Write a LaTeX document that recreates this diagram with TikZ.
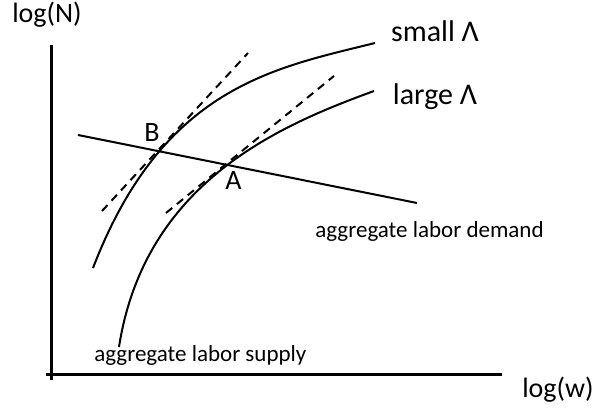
\documentclass[tikz,border=0pt]{standalone}
\usepackage{fontspec}
\setmainfont{Carlito}
\usetikzlibrary{positioning}

\begin{document}
\begin{tikzpicture}[
  x=0.5pt, y=0.5pt,
  axis/.style={line width=1.5pt},
  curve/.style={line width=1pt},
  tangent/.style={line width=1pt, dash pattern=on 4pt off 3pt},
  biglab/.style={font=\fontsize{14}{16}\selectfont, inner sep=0pt},
  lamlab/.style={font=\fontsize{15}{17}\selectfont, inner sep=0pt},
  smalllab/.style={font=\fontsize{11.5}{13}\selectfont, inner sep=0pt}
]
  \useasboundingbox (0,0) rectangle (594,410);

  % axes
  \coordinate (origin) at (51,30);
  \coordinate (ytop) at (51,365);
  \coordinate (xleft) at (46,35);
  \coordinate (xright) at (502,35);
  \draw[axis] (origin) -- (ytop);
  \draw[axis] (xleft) -- (xright);
  \node[biglab, anchor=base] (ylab) at (47,387) {log(N)};
  \node[biglab, anchor=base] (xlab) at (558,12) {log(w)};

  % supply curves
  \coordinate (s1) at (93,142);
  \coordinate (s2) at (375,367);
  \coordinate (l1) at (119,63);
  \coordinate (l2) at (374,319);
  \draw[curve] (s1) .. controls (163,324) and (275,342) .. (s2);
  \draw[curve] (l1) .. controls (145,230) and (284,286) .. (l2);
  \node[lamlab, anchor=base] (smalllam) at (435,368) {small Λ};
  \node[lamlab, anchor=base] (largelam) at (435,305) {large Λ};
  \node[smalllab, anchor=base west] (supply) at (94,48) {aggregate labor supply};

  % demand line
  \coordinate (d1) at (78,275);
  \coordinate (d2) at (417,207);
  \draw[curve] (d1) -- (d2);
  \node[smalllab, anchor=base] (demand) at (429.5,172) {aggregate labor demand};

  % tangents at B and A
  \coordinate (tb1) at (102,199);
  \coordinate (tb2) at (248,357);
  \coordinate (ta1) at (166,197);
  \coordinate (ta2) at (334,334);
  \draw[tangent] (tb1) -- (tb2);
  \draw[tangent] (ta1) -- (ta2);
  \node[biglab, anchor=base] (B) at (152,268) {B};
  \node[biglab, anchor=base] (A) at (233.5,220) {A};
\end{tikzpicture}
\end{document}
